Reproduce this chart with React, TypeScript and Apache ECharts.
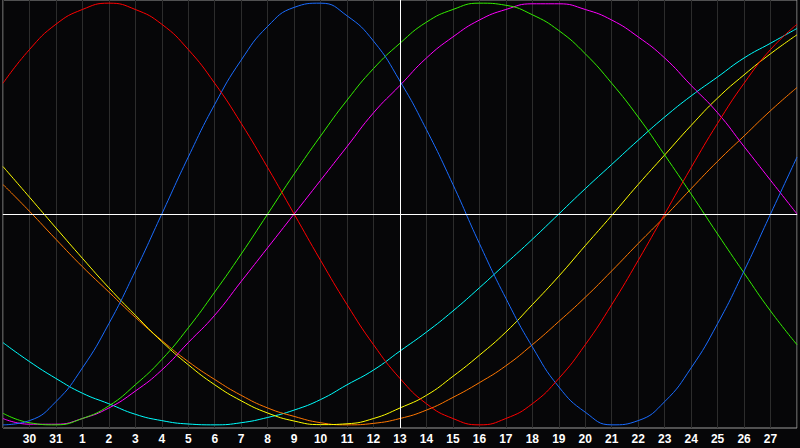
import React, { useEffect, useRef } from "react";
import * as echarts from "echarts";

const dayLabels = [
  "29", "30", "31", "1", "2", "3", "4", "5", "6", "7", "8", "9", "10", "11", "12",
  "13", "14", "15", "16", "17", "18", "19", "20", "21", "22", "23", "24", "25", "26", "27", "28",
];
const todayIndex = 15;

const physical = [
  -100, -98, -89, -73, -52, -27, 0, 27, 52, 73, 89, 98, 100, 94, 82, 63,
  40, 14, -14, -40, -63, -82, -94, -100, -98, -89, -73, -52, -27, 0, 27,
];
const emotional = [
  62, 78, 90, 97, 100, 97, 90, 78, 62, 43, 22, 0, -22, -43, -62, -78,
  -90, -97, -100, -97, -90, -78, -62, -43, -22, 0, 22, 43, 62, 78, 90,
];
const intellectual = [
  -94.5, -99, -100, -97, -91, -81, -69, -54, -37, -19, 0, 19, 37, 54, 69, 81,
  91, 97, 100, 99, 94.5, 87, 76, 62, 46, 28, 9.5, -9.5, -28, -46, -62,
];
const intuitive = [
  -97, -99.7, -99.7, -97, -92, -84, -74, -61, -48, -32, -16, 0, 16, 32, 48, 61,
  74, 84, 92, 97, 99.7, 99.7, 97, 92, 84, 74, 61, 48, 32, 16, 0,
];
const spiritual = [
  -61, -70, -78, -85, -90, -95, -98, -99.6, -100, -99, -96.5, -93, -88, -81, -74, -65,
  -56, -46, -35, -23.5, -12, 0, 12, 23.5, 35, 46, 56, 65, 74, 81, 88,
];
const aesthetic = [
  22.5, 8, -6.6, -21, -35, -48, -60.5, -71.5, -81, -88.6, -94.4, -98.2, -99.9, -99.5, -97, -92,
  -86, -77, -67, -56, -43, -29.5, -15, -0.7, 14, 28, 42, 55, 66, 76, 85,
];
const awareness = [
  14, 1.3, -12, -25, -37, -49, -60, -70, -78.5, -86, -92, -96, -99, -100, -99.3, -97,
  -93, -87, -80, -72, -62, -51, -39.5, -27, -14, -1.3, 12, 25, 37, 49, 60,
];

const seriesDefs = [
  { name: "Spiritual", data: spiritual, color: "#00ffff" },
  { name: "Awareness", data: awareness, color: "#ff7700" },
  { name: "Aesthetic", data: aesthetic, color: "#ffff00" },
  { name: "Intuitive", data: intuitive, color: "#ff00ff" },
  { name: "Intellectual", data: intellectual, color: "#33ee00" },
  { name: "Physical", data: physical, color: "#1a6cff" },
  { name: "Emotional", data: emotional, color: "#ff0000" },
];

export default function App() {
  const ref = useRef<HTMLDivElement>(null);

  useEffect(() => {
    document.body.style.margin = "0";
    const chart = echarts.init(ref.current!, null, { renderer: "svg" });
    const series: any[] = seriesDefs.map((s) => ({
      name: s.name,
      type: "line",
      data: s.data,
      smooth: true,
      symbol: "none",
      lineStyle: { color: s.color, width: 1 },
      itemStyle: { color: s.color },
      z: 3,
    }));
    series.push({
      name: "markers",
      type: "line",
      data: [],
      symbol: "none",
      z: 2,
      markLine: {
        silent: true,
        symbol: "none",
        animation: false,
        label: { show: false },
        lineStyle: { color: "#ffffff", width: 1, type: "solid" },
        data: [{ xAxis: todayIndex }, { yAxis: 0 }],
      },
    });
    chart.setOption({
      animation: false,
      backgroundColor: "#060608",
      grid: {
        left: 0,
        top: 0,
        width: 801,
        height: 428,
        show: true,
        backgroundColor: "#060608",
        borderColor: "#9a9a9a",
        borderWidth: 1,
      },
      xAxis: {
        type: "category",
        data: dayLabels,
        boundaryGap: false,
        axisLine: { show: true, lineStyle: { color: "#9a9a9a", width: 1 } },
        axisTick: { show: false },
        axisLabel: {
          show: true,
          interval: 0,
          formatter: (value: string, index: number) =>
            index === 0 || index === dayLabels.length - 1 ? "" : value,
          color: "#ffffff",
          fontWeight: "bold",
          fontSize: 12,
          fontFamily: "Liberation Sans",
          margin: 5,
        },
        splitLine: { show: true, lineStyle: { color: "#2c2c2c", width: 1 } },
      },
      yAxis: {
        type: "value",
        min: -101.5,
        max: 101.5,
        axisLabel: { show: false },
        axisLine: { show: false },
        axisTick: { show: false },
        splitLine: { show: false },
      },
      series,
    });
    return () => chart.dispose();
  }, []);

  return (
    <div
      ref={ref}
      style={{ position: "absolute", left: 0, top: 0, width: 800, height: 448 }}
    />
  );
}
